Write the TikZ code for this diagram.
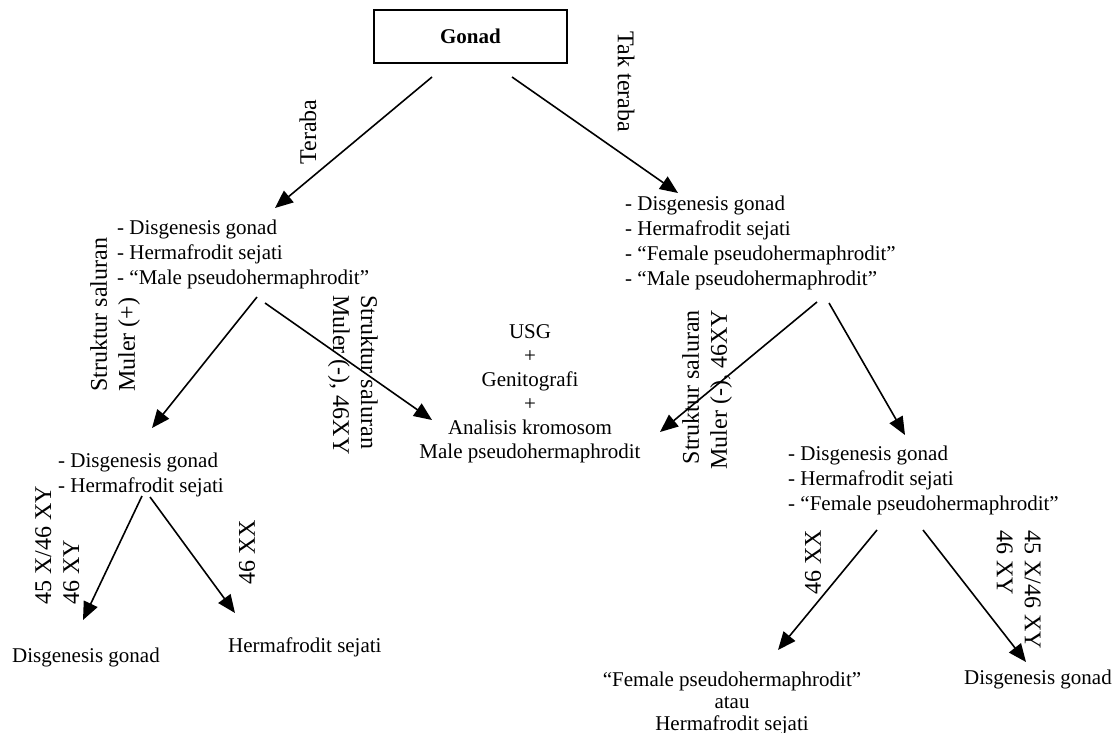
\documentclass[tikz,border=0pt]{standalone}
\usepackage{fontspec}
\setmainfont{Liberation Serif}
\usetikzlibrary{arrows.meta}
\begin{document}
\begin{tikzpicture}[x=1pt,y=-1pt,
  txt/.style={font=\fontsize{21}{25}\selectfont, inner sep=0pt, align=left},
  ctxt/.style={font=\fontsize{21}{24}\selectfont, inner sep=0pt, align=center},
  lbl/.style={font=\fontsize{24}{28}\selectfont, inner sep=0pt},
  arr/.style={line width=1.6pt, -{Triangle[length=18pt,width=15pt]}},
]
\useasboundingbox (0,0) rectangle (1116,733);

% top box
\node[draw, line width=1.5pt, minimum width=193pt, minimum height=53pt, inner sep=0pt,
      font=\bfseries\fontsize{21}{25}\selectfont] (gonad) at (470.5,36.5) {Gonad};

% text blocks
\node[txt, anchor=north west] (L1) at (117,219.5) {- Disgenesis gonad\\- Hermafrodit sejati\\- “Male pseudohermaphrodit”};
\node[txt, anchor=north west] (R1) at (625,195.5) {- Disgenesis gonad\\- Hermafrodit sejati\\- “Female pseudohermaphrodit”\\- “Male pseudohermaphrodit”};
\node[ctxt, anchor=north] (mid) at (530,324.5) {USG\\+\\Genitografi\\+\\Analisis kromosom\\Male pseudohermaphrodit};
\node[txt, anchor=north west] (R2) at (788,445.5) {- Disgenesis gonad\\- Hermafrodit sejati\\- “Female pseudohermaphrodit”};
\node[txt, anchor=north west] (L2) at (58,452.5) {- Disgenesis gonad\\- Hermafrodit sejati};
\node[ctxt, font=\fontsize{21}{22}\selectfont, anchor=north] (bm) at (732,671.5) {“Female pseudohermaphrodit”\\atau\\Hermafrodit sejati};
\node[txt, anchor=center] (br) at (1038,679) {Disgenesis gonad};
\node[txt, anchor=west] (bl) at (12,657) {Disgenesis gonad};
\node[txt, anchor=west] (bh) at (228,647) {Hermafrodit sejati};

% rotated labels
\node[lbl, rotate=90] (teraba) at (308,132) {Teraba};
\node[lbl, rotate=-90] (takteraba) at (626,82) {Tak teraba};
\node[lbl, rotate=90, anchor=north west, align=left] (mplus) at (90,392) {Struktur saluran\\Muler (+)};
\node[lbl, rotate=-90, anchor=north west, align=left] (mminA) at (378,295) {Struktur saluran\\Muler (-), 46XY};
\node[lbl, rotate=90, anchor=north east, align=right] (mminB) at (682,310) {Struktur saluran\\Muler (-), 46XY};
\node[lbl, rotate=90, anchor=north west, align=left] (kA) at (35,605) {45 X/46 XY\\46 XY};
\node[lbl, rotate=90] (xxA) at (247,552) {46 XX};
\node[lbl, rotate=90] (xxB) at (813,562) {46 XX};
\node[lbl, rotate=-90, anchor=north west, align=left] (kB) at (1041,530) {45 X/46 XY\\46 XY};

% arrow end points
\coordinate (gL) at (432,77);   \coordinate (tL1) at (275,208);
\coordinate (gR) at (512,77);   \coordinate (tR1) at (678,193);
\coordinate (l1a) at (257,297); \coordinate (tL2) at (152,428);
\coordinate (l1b) at (265,303); \coordinate (tM1) at (432,420);
\coordinate (r1a) at (817,302); \coordinate (tM2) at (660,432);
\coordinate (r1b) at (829,303); \coordinate (tR2) at (905,435);
\coordinate (l2a) at (142,496); \coordinate (tBL) at (83,620);
\coordinate (l2b) at (150,497); \coordinate (tBH) at (235,613);
\coordinate (r2a) at (877,530); \coordinate (tBM) at (778,650);
\coordinate (r2b) at (923,530); \coordinate (tBR) at (1026,662);

\draw[arr] (gL) -- (tL1);
\draw[arr] (gR) -- (tR1);
\draw[arr] (l1a) -- (tL2);
\draw[arr] (l1b) -- (tM1);
\draw[arr] (r1a) -- (tM2);
\draw[arr] (r1b) -- (tR2);
\draw[arr] (l2a) -- (tBL);
\draw[arr] (l2b) -- (tBH);
\draw[arr] (r2a) -- (tBM);
\draw[arr] (r2b) -- (tBR);
\end{tikzpicture}
\end{document}
